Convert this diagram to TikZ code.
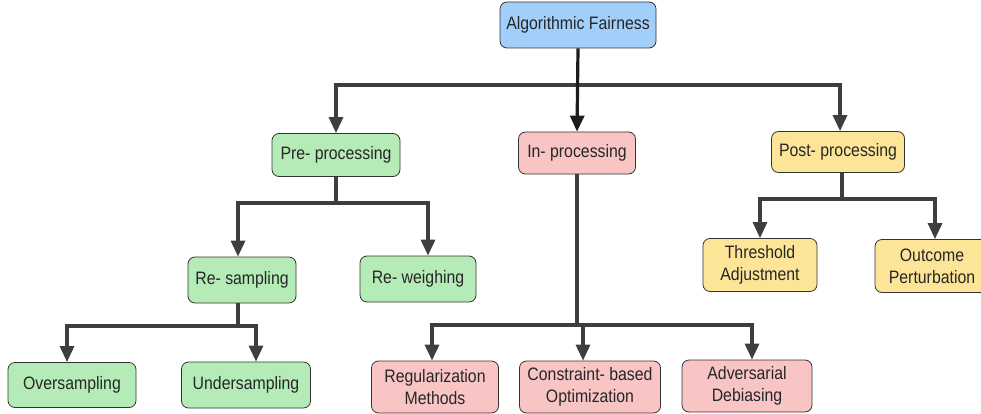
\documentclass[tikz,border=0pt]{standalone}
\usepackage{fontspec}
\setmainfont{Liberation Sans}[FakeStretch=0.88]
\usetikzlibrary{arrows.meta}
\definecolor{rootfill}{RGB}{161,207,250}
\definecolor{prefill}{RGB}{181,235,182}
\definecolor{infill}{RGB}{248,197,196}
\definecolor{postfill}{RGB}{252,229,150}
\definecolor{edgegray}{RGB}{62,62,62}
\definecolor{edgedark}{RGB}{28,28,28}
\begin{document}
\begin{tikzpicture}[x=1pt,y=-1pt,
    box/.style={rectangle,draw=black!80,line width=0.8pt,rounded corners=7pt,align=center,inner sep=1pt,text=black!85,font=\fontsize{18}{22}\selectfont},
    rootbox/.style={box,fill=rootfill},
    prebox/.style={box,fill=prefill},
    inbox/.style={box,fill=infill},
    postbox/.style={box,fill=postfill},
    arr/.style={-{Triangle[length=16pt,width=14pt]},line width=3.2pt,draw=edgegray}]
    \useasboundingbox (0,0) rectangle (981,414);
    %
    \node[rootbox,minimum width=156pt,minimum height=46pt] (root) at (578,25) {Algorithmic Fairness};
    %
    \node[prebox,minimum width=128pt,minimum height=43pt] (pre) at (336,155) {Pre- processing};
    \node[inbox,minimum width=117pt,minimum height=42pt] (in) at (577,153) {In- processing};
    \node[postbox,minimum width=133pt,minimum height=41pt] (post) at (838,152) {Post- processing};
    %
    \node[prebox,minimum width=108pt,minimum height=46pt] (resamp) at (242,280) {Re- sampling};
    \node[prebox,minimum width=116pt,minimum height=46pt] (reweigh) at (418,279) {Re- weighing};
    \node[prebox,minimum width=128pt,minimum height=45pt] (over) at (72,385) {Oversampling};
    \node[prebox,minimum width=129pt,minimum height=46pt] (under) at (246,385) {Undersampling};
    %
    \node[inbox,minimum width=127pt,minimum height=52pt] (reg) at (435,387) {Regularization\\Methods};
    \node[inbox,minimum width=141pt,minimum height=52pt] (cons) at (590,387) {Constraint- based\\Optimization};
    \node[inbox,minimum width=130pt,minimum height=52pt] (adv) at (747,386) {Adversarial\\Debiasing};
    %
    \node[postbox,minimum width=114pt,minimum height=53pt] (thr) at (760,265) {Threshold\\Adjustment};
    \node[postbox,minimum width=114pt,minimum height=53pt] (outc) at (932,266) {Outcome\\Perturbation};
    %
    \coordinate (rootbus) at (578,85);
    \coordinate (prebus) at (338,203);
    \coordinate (resampbus) at (238,326);
    \coordinate (inbus) at (577,325);
    \coordinate (postbus) at (842,199);
    %
    \begin{scope}
        \draw[arr] (rootbus) -| (pre.north);
        \draw[arr] (rootbus) -| ([xshift=2pt]post.north);
        \draw[arr,draw=edgedark] (root.south) -- (in.north);
        %
        \draw[arr] (pre.south) |- (prebus) -| ([xshift=-4pt]resamp.north);
        \draw[arr] (prebus) -| ([xshift=10pt]reweigh.north);
        %
        \draw[arr] ([xshift=-4pt]resamp.south) |- (resampbus) -| ([xshift=-5pt]over.north);
        \draw[arr] (resampbus) -| ([xshift=10pt]under.north);
        %
        \draw[arr] (in.south) |- (inbus) -| ([xshift=-3pt]reg.north);
        \draw[arr] (inbus) -| ([xshift=-7pt]cons.north);
        \draw[arr] (inbus) -| ([xshift=5pt]adv.north);
        %
        \draw[arr] ([xshift=4pt]post.south) |- (postbus) -| (thr.north);
        \draw[arr] (postbus) -| ([xshift=3pt]outc.north);
    \end{scope}
\end{tikzpicture}
\end{document}
